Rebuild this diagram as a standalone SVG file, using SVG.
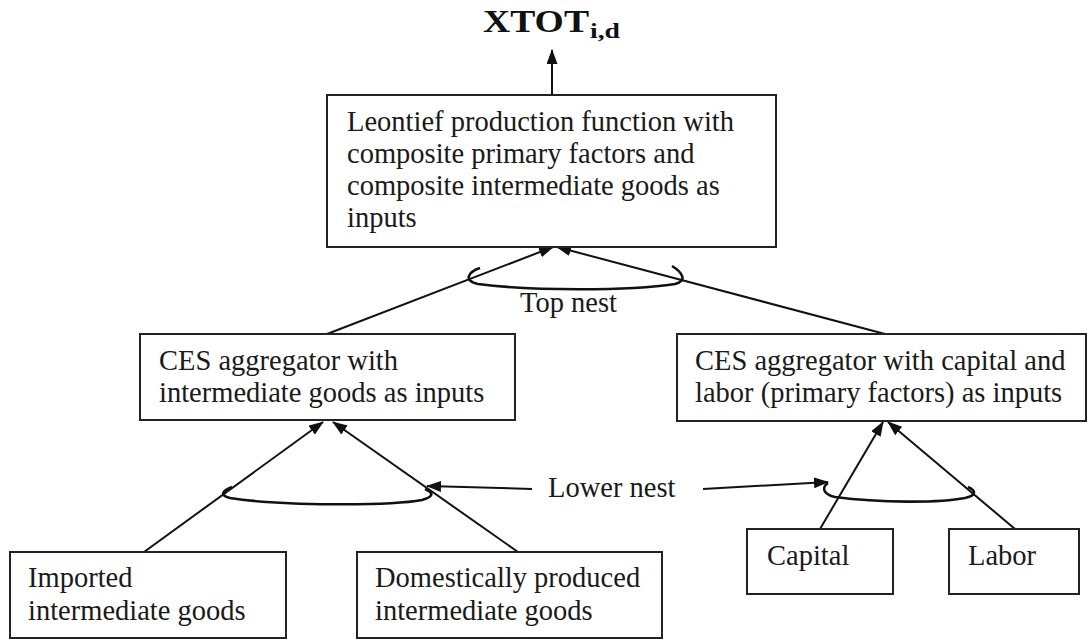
<svg xmlns="http://www.w3.org/2000/svg" width="1089" height="640" viewBox="0 0 1089 640">
<style>
.box{fill:#fff;stroke:#222;stroke-width:2}
.t{font-family:"Liberation Serif","Times New Roman",serif;font-size:28.5px;fill:#1a1a1a}
.c{stroke:#111;stroke-width:2;fill:none}
.nest{stroke:#111;stroke-width:2.6;fill:none}
.ttl{font-family:"Liberation Serif","Times New Roman",serif;font-weight:bold;fill:#111}
</style>
<defs>
<marker id="ah" viewBox="0 0 15 11" refX="14" refY="5.5" markerWidth="15" markerHeight="11" markerUnits="userSpaceOnUse" orient="auto">
<path d="M0,0 L15,5.5 L0,11 z" fill="#111"/>
</marker>
</defs>
<rect width="1089" height="640" fill="#fff"/>
<g id="title">
<text class="ttl" x="483" y="32" font-size="31" textLength="106" lengthAdjust="spacingAndGlyphs">XTOT</text>
<text class="ttl" x="590" y="38" font-size="20" textLength="30" lengthAdjust="spacingAndGlyphs">i,d</text>
</g>
<g id="connectors">
<line class="c" x1="552" y1="95" x2="552" y2="50" marker-end="url(#ah)"/>
<line class="c" x1="327" y1="334" x2="553" y2="247" marker-end="url(#ah)"/>
<line class="c" x1="885" y1="334" x2="557" y2="247" marker-end="url(#ah)"/>
<line class="c" x1="144" y1="552" x2="323" y2="422" marker-end="url(#ah)"/>
<line class="c" x1="518" y1="552" x2="333" y2="422" marker-end="url(#ah)"/>
<line class="c" x1="820" y1="529" x2="883" y2="422" marker-end="url(#ah)"/>
<line class="c" x1="1015" y1="529" x2="888" y2="422" marker-end="url(#ah)"/>
<line class="c" x1="532" y1="489" x2="427" y2="486" marker-end="url(#ah)"/>
<line class="c" x1="703" y1="489" x2="828" y2="482" marker-end="url(#ah)"/>
<path class="nest" d="M480,268 C468,272 463,281 478,284 C530,291 630,291 675,284 C688,281 682,272 672,266"/>
<path class="nest" d="M232,487 C224,490 218,495 230,498 C280,506 390,506 422,500 C436,496 432,492 425,489"/>
<path class="nest" d="M828,483 C822,487 822,494 835,497 C880,503 940,503 965,498 C978,495 975,490 968,487"/>
</g>
<g id="leontief">
<rect class="box" x="327" y="95" width="449" height="152"/>
<text class="t" x="347" y="131">Leontief production function with</text>
<text class="t" x="347" y="163">composite primary factors and</text>
<text class="t" x="347" y="195">composite intermediate goods as</text>
<text class="t" x="347" y="227">inputs</text>
</g>
<g id="ces-intermediate">
<rect class="box" x="140" y="334" width="375" height="86"/>
<text class="t" x="159" y="370">CES aggregator with</text>
<text class="t" x="159" y="402">intermediate goods as inputs</text>
</g>
<g id="ces-primary">
<rect class="box" x="677" y="334" width="409" height="87"/>
<text class="t" x="695" y="370">CES aggregator with capital and</text>
<text class="t" x="695" y="402">labor (primary factors) as inputs</text>
</g>
<g id="top-nest-label">
<text class="t" x="520" y="312">Top nest</text>
</g>
<g id="lower-nest-label">
<text class="t" x="548" y="497">Lower nest</text>
</g>
<g id="imported">
<rect class="box" x="10" y="552" width="276" height="86"/>
<text class="t" x="28" y="587">Imported</text>
<text class="t" x="28" y="620">intermediate goods</text>
</g>
<g id="domestic">
<rect class="box" x="357" y="552" width="305" height="86"/>
<text class="t" x="375" y="587">Domestically produced</text>
<text class="t" x="375" y="620">intermediate goods</text>
</g>
<g id="capital">
<rect class="box" x="747" y="529" width="146" height="65"/>
<text class="t" x="767" y="565">Capital</text>
</g>
<g id="labor">
<rect class="box" x="949" y="529" width="130" height="65"/>
<text class="t" x="968" y="565">Labor</text>
</g>
</svg>
